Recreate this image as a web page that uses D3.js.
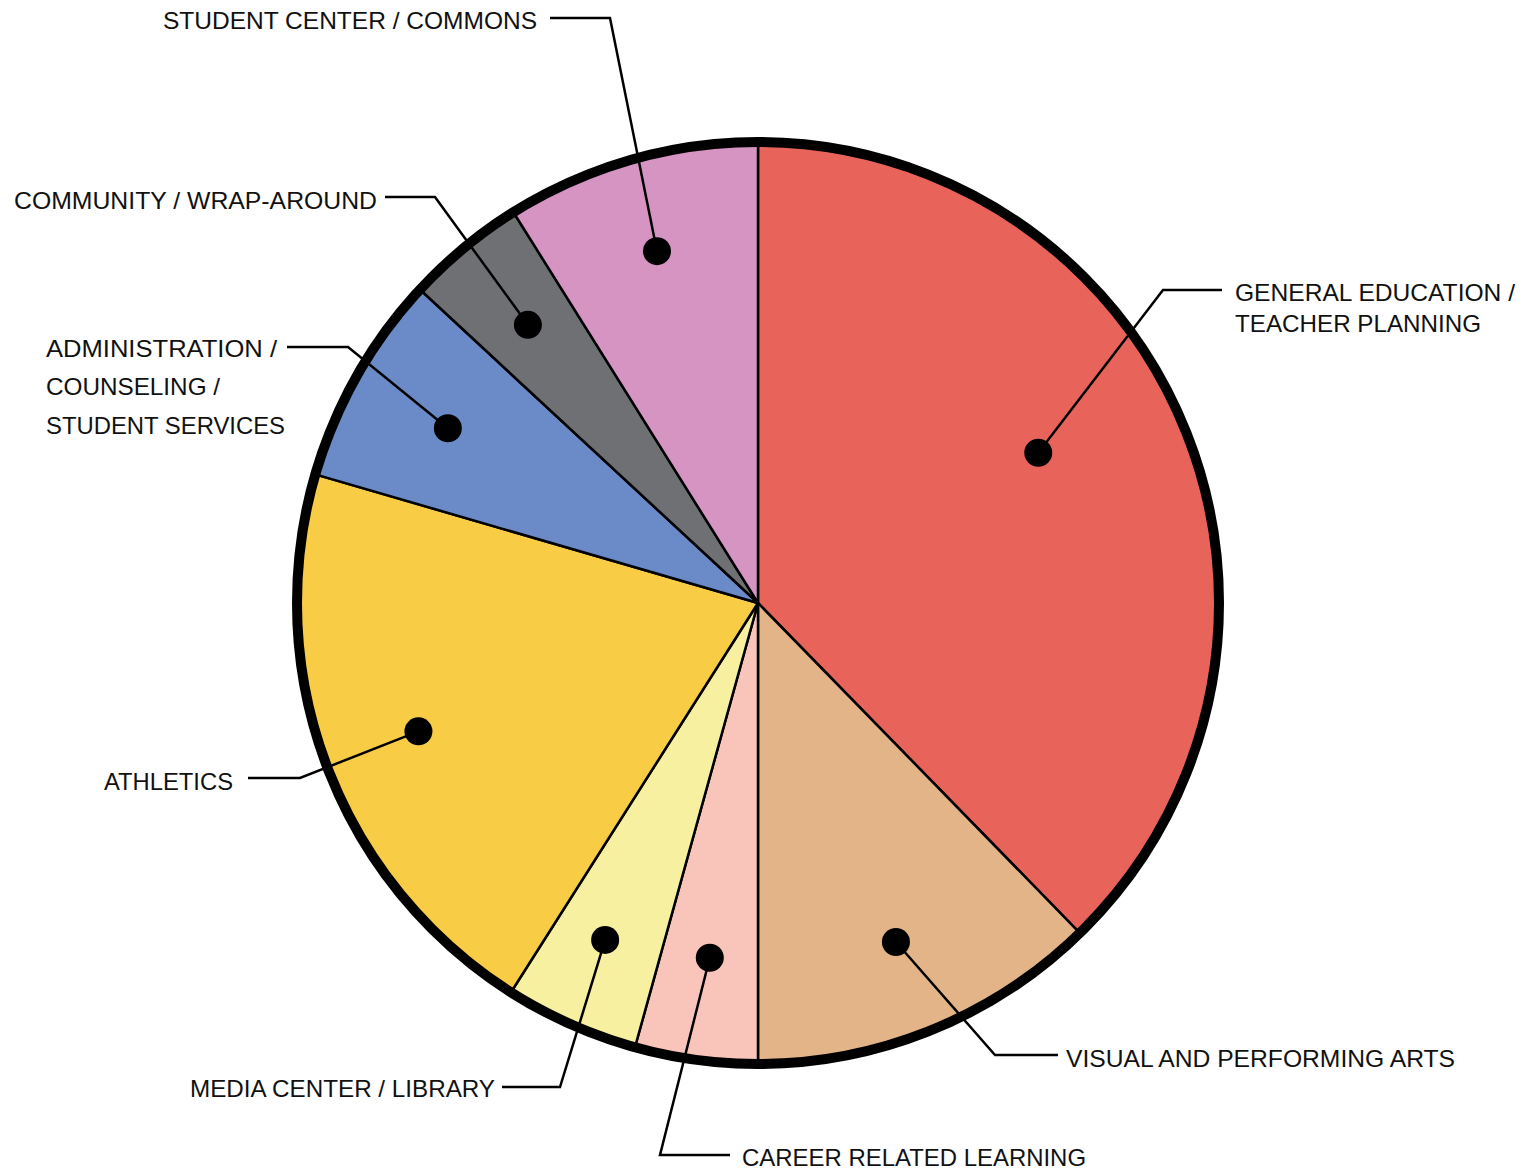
<!DOCTYPE html>
<html>
<head>
<meta charset="utf-8">
<script src="https://cdn.jsdelivr.net/npm/d3@7"></script>
<style>
  body { margin: 0; background: #fff; }
  text { font-family: "Liberation Sans", Arial, sans-serif; font-size: 24px; fill: #111; }
</style>
</head>
<body>
<svg id="chart"></svg>
<script>
// share of space, clockwise from 12 o'clock
const categories = [
    "GENERAL EDUCATION / TEACHER PLANNING",
    "VISUAL AND PERFORMING ARTS",
    "CAREER RELATED LEARNING",
    "MEDIA CENTER / LIBRARY",
    "ATHLETICS",
    "ADMINISTRATION / COUNSELING / STUDENT SERVICES",
    "COMMUNITY / WRAP-AROUND",
    "STUDENT CENTER / COMMONS"
];
const shares = [37.7, 12.3, 4.3, 4.7, 20.5, 7.4, 4.2, 8.9];
const labelLines = [
    ["GENERAL EDUCATION /", "TEACHER PLANNING"],
    ["VISUAL AND PERFORMING ARTS"],
    ["CAREER RELATED LEARNING"],
    ["MEDIA CENTER / LIBRARY"],
    ["ATHLETICS"],
    ["ADMINISTRATION  /", "COUNSELING /", "STUDENT SERVICES"],
    ["COMMUNITY / WRAP-AROUND"],
    ["STUDENT CENTER / COMMONS"]
];
const colors = ["#e8645a", "#e3b487", "#f9c5ba", "#f6f0a0", "#f9cc46", "#6a8bc8", "#6e7073", "#d594c1"];

const width = 1526;
const height = 1170;
const cx = 758, cy = 603;
const radius = 461;

// label placement: dot nudges, elbow of leader, end of horizontal run, text anchor, baselines, text widths
const layout = [
    { dotA: 61.8, dotR: 318, ex: 1163, ey: 290, hx: 1222, tx: 1235, anchor: "start", ys: [301, 332], w: [280, 246] },
    { dotR: 366, ex: 995, ey: 1055, hx: 1058, tx: 1066, anchor: "start", ys: [1067], w: [389] },
    { dotR: 358, ex: 660, ey: 1155, hx: 730, tx: 742, anchor: "start", ys: [1166], w: [344] },
    { dotA: 204.4, dotR: 370, ex: 560, ey: 1087, hx: 502, tx: 495, anchor: "end", ys: [1097], w: [305] },
    { dotR: 363, ex: 300, ey: 778, hx: 248, tx: 233, anchor: "end", ys: [790], w: [129] },
    { dotA: 299.4, dotR: 356, ex: 348, ey: 347, hx: 287, tx: 46, anchor: "start", ys: [357, 395, 434], w: [231, 174, 239] },
    { dotR: 361, ex: 435, ey: 197, hx: 385, tx: 377, anchor: "end", ys: [209], w: [363] },
    { dotR: 366, ex: 610, ey: 18, hx: 550, tx: 537, anchor: "end", ys: [29], w: [374] }
];

const svg = d3.select("#chart")
    .attr("width", width)
    .attr("height", height);

const pie = d3.pie().sort(null).value(d => d);
const arcs = pie(shares);
const arc = d3.arc().innerRadius(0).outerRadius(radius);

const g = svg.append("g").attr("transform", `translate(${cx},${cy})`);

g.selectAll("path.slice")
    .data(arcs)
    .join("path")
    .attr("class", "slice")
    .attr("d", arc)
    .attr("fill", (d, i) => colors[i])
    .attr("stroke", "#000")
    .attr("stroke-width", 2.5)
    .attr("stroke-linejoin", "round");

g.append("circle")
    .attr("r", radius)
    .attr("fill", "none")
    .attr("stroke", "#000")
    .attr("stroke-width", 10);

// dot position: middle angle of slice unless nudged
function dotPos(d, i) {
    const L = layout[i];
    const a = L.dotA != null ? L.dotA * Math.PI / 180 : (d.startAngle + d.endAngle) / 2;
    const r = L.dotR || 363;
    return [cx + r * Math.sin(a), cy - r * Math.cos(a)];
}

const labels = svg.append("g");

arcs.forEach((d, i) => {
    const L = layout[i];
    const [dx, dy] = dotPos(d, i);

    labels.append("path")
        .attr("d", d3.line()([[dx, dy], [L.ex, L.ey], [L.hx, L.ey]]))
        .attr("fill", "none")
        .attr("stroke", "#000")
        .attr("stroke-width", 2.5);

    labels.append("circle")
        .attr("cx", dx)
        .attr("cy", dy)
        .attr("r", 14)
        .attr("fill", "#000");

    labelLines[i].forEach((line, j) => {
        labels.append("text")
            .attr("x", L.tx)
            .attr("y", L.ys[j])
            .attr("text-anchor", L.anchor)
            .attr("textLength", L.w[j])
            .attr("lengthAdjust", "spacingAndGlyphs")
            .text(line);
    });
});
</script>
</body>
</html>
